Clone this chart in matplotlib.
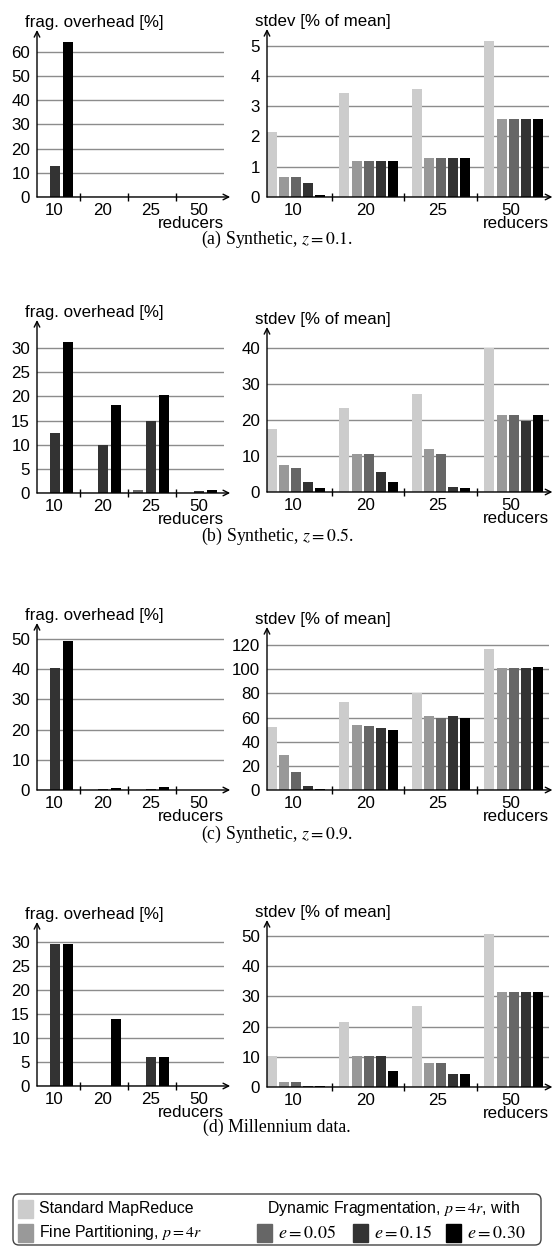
import numpy as np
import matplotlib.pyplot as plt
from matplotlib.patches import Rectangle, FancyBboxPatch

plt.rcParams['font.family'] = ['Liberation Sans', 'DejaVu Sans']
plt.rcParams['mathtext.fontset'] = 'stix'

groups = ['10', '20', '25', '50']
names = ['Standard MapReduce', 'Fine Partitioning, $p=4r$',
         '$e=0.05$', '$e=0.15$', '$e=0.30$']
colors = ['#cccccc', '#999999', '#666666', '#333333', '#000000']

# fragmentation overhead [%]  -> rows: e=0.05, e=0.15, e=0.30
frag_a = [[0, 0, 0, 0], [12.8, 0, 0.1, 0], [64.2, 0, 0, 0]]
frag_b = [[0, 0, 0.6, 0], [12.5, 9.9, 15.0, 0.4], [31.3, 18.3, 20.2, 0.6]]
frag_c = [[0, 0, 0, 0], [40.3, 0.2, 0.4, 0], [49.2, 0.6, 0.9, 0]]
frag_d = [[0, 0, 0, 0], [29.7, 0, 6.1, 0], [29.7, 14.0, 6.1, 0]]

# stdev [% of mean] -> rows: standard, fine, e=0.05, e=0.15, e=0.30
std_a = [[2.16, 3.44, 3.58, 5.16], [0.67, 1.2, 1.3, 2.59], [0.67, 1.2, 1.3, 2.59],
         [0.47, 1.2, 1.3, 2.59], [0.06, 1.2, 1.3, 2.59]]
std_b = [[17.5, 23.3, 27.2, 40.0], [7.6, 10.6, 12.0, 21.4], [6.8, 10.6, 10.6, 21.4],
         [2.8, 5.6, 1.5, 19.8], [1.2, 2.8, 1.2, 21.4]]
std_c = [[52, 73, 80, 117], [29, 54, 61, 101], [15, 53, 60, 101],
         [3, 51, 61, 101], [0.8, 50, 60, 102]]
std_d = [[10.2, 21.5, 26.8, 50.5], [1.8, 10.2, 7.8, 31.4], [1.8, 10.2, 7.8, 31.4],
         [0.2, 10.2, 4.2, 31.4], [0.2, 5.2, 4.2, 31.4]]

captions = ['(a) Synthetic, $z = 0.1$.', '(b) Synthetic, $z = 0.5$.',
            '(c) Synthetic, $z = 0.9$.', '(d) Millennium data.']

W, H = 553, 1246
fig = plt.figure(figsize=(W / 100, H / 100), dpi=100)
FS = 12.2


def px_axes(x0, x1, ybot, ytop):
    return fig.add_axes([x0 / W, 1 - ybot / H, (x1 - x0) / W, (ybot - ytop) / H])


def draw(ax, data, cols, width, pitch, offset, step, tmax, ytop, label, arrow_x):
    x = np.arange(len(groups))
    for k, (vals, c) in enumerate(zip(data, cols)):
        ax.bar(x + offset + k * pitch, vals, width, align='edge', color=c, zorder=2)
    ax.set_xlim(0.11, 4.0)
    ax.set_ylim(0, ytop)
    ax.set_yticks(np.arange(0, tmax + step / 2, step))
    ax.grid(axis='y', color='#8c8c8c', lw=1.0)
    ax.set_axisbelow(True)
    for s in ax.spines.values():
        s.set_visible(False)
    ax.set_xticks([1, 2, 3])
    ax.set_xticklabels([])
    ax.set_xticks(x + 0.47, minor=True)
    ax.set_xticklabels(groups, minor=True)
    ax.tick_params(axis='x', which='major', direction='inout', length=6, width=1)
    ax.tick_params(axis='x', which='minor', length=0, pad=4, labelsize=FS)
    ax.tick_params(axis='y', length=0, pad=5, labelsize=FS)
    arrow = dict(arrowstyle='->', lw=1, color='k', shrinkA=0, shrinkB=0)
    ax.annotate('', xy=(arrow_x, 0), xytext=(0, 0), xycoords='axes fraction',
                arrowprops=arrow, annotation_clip=False, zorder=5)
    ax.annotate('', xy=(0, 1), xytext=(0, 0), xycoords='axes fraction',
                arrowprops=arrow, annotation_clip=False, zorder=5)
    ax.annotate(label, xy=(0, 1), xycoords='axes fraction', xytext=(-12, 0),
                textcoords='offset pixels', ha='left', va='bottom', fontsize=FS)
    ax.annotate('reducers', xy=(1, 0), xycoords='axes fraction', xytext=(0, -19),
                textcoords='offset pixels', ha='right', va='top', fontsize=FS)


frags = [frag_a, frag_b, frag_c, frag_d]
stds = [std_a, std_b, std_c, std_d]
# pixel rows: (left bottom, left top, right bottom, right top, caption y)
rows = [(197, 30, 197, 29, 239), (493, 320, 492, 327, 536),
        (790, 623, 790, 627, 834), (1086, 922, 1087, 920, 1127)]
left_ticks = [(10, 60, 69), (5, 30, 35.8), (10, 50, 55.3), (5, 30, 34.2)]
right_ticks = [(1, 5, 5.55), (10, 40, 45.8), (20, 120, 135), (10, 50, 55.3)]

for i in range(4):
    lb, lt, rb, rt, cy = rows[i]
    axl = px_axes(37, 224, lb, lt)
    draw(axl, frags[i], colors[2:], 0.21, 0.27, 0.105, *left_ticks[i],
         'frag. overhead [%]', 1.033)
    axr = px_axes(267, 549, rb, rt)
    draw(axr, stds[i], colors, 0.137, 0.167, 0.11, *right_ticks[i],
         'stdev [% of mean]', 1.012)
    fig.text(277 / W, 1 - cy / H, captions[i], ha='center', va='center',
             family='Liberation Serif', fontsize=12.8)

# legend drawn in pixel coordinates
lax = px_axes(0, W, H, 1180)
lax.set_xlim(0, W)
lax.set_ylim(H, 1180)
lax.axis('off')
lax.add_patch(FancyBboxPatch((13, 1194), 528, 51, boxstyle='round,pad=0,rounding_size=6',
                             fc='white', ec='#444444', lw=1, clip_on=False))
legend_items = [(18, 1209, 0, 11.4), (18, 1233, 1, 11.4), (257, 1233, 2, 13),
                (353, 1233, 3, 13), (446, 1233, 4, 13)]
for x0, yc, k, fs in legend_items:
    lax.add_patch(Rectangle((x0, yc - 9), 15, 18, color=colors[k], clip_on=False))
    lax.text(x0 + 21, yc, names[k], va='center', ha='left', fontsize=fs)
lax.text(267, 1209, 'Dynamic Fragmentation, $p = 4r$, with', va='center', ha='left',
         fontsize=11.4)

fig.savefig('out.png', dpi=100)
